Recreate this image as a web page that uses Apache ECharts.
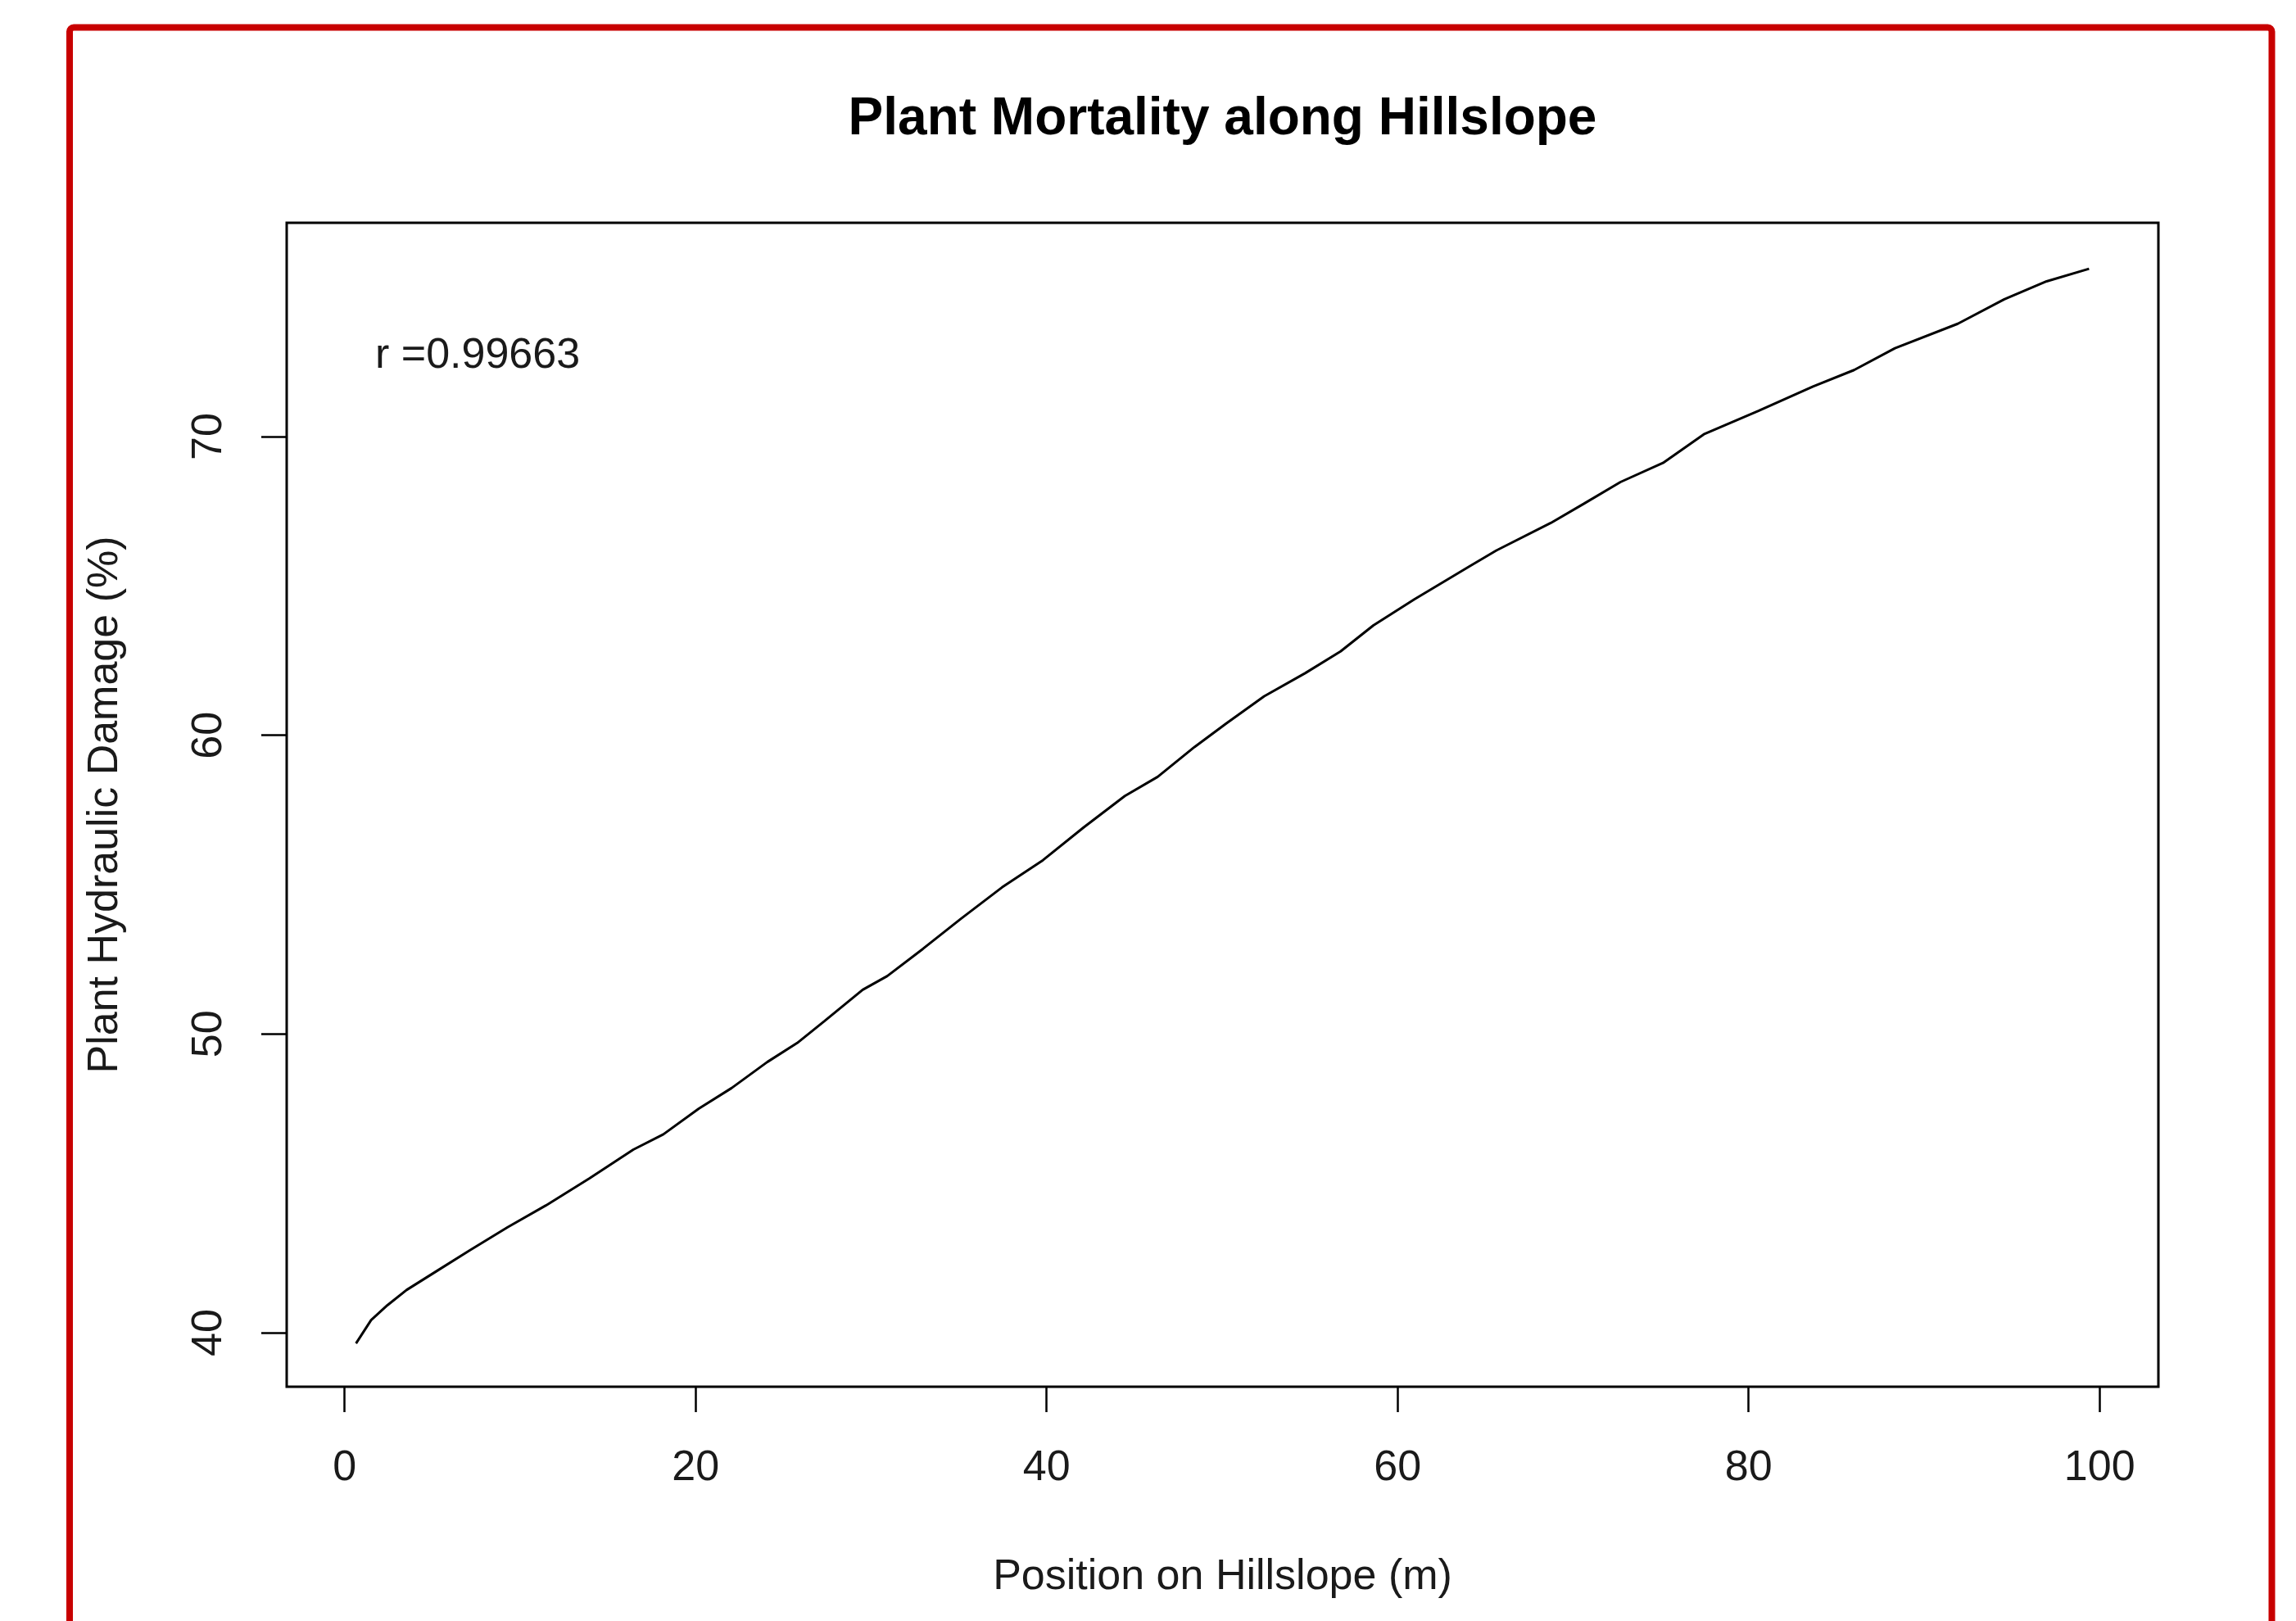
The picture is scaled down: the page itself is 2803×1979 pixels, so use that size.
<!DOCTYPE html>
<html>
<head>
<meta charset="utf-8">
<title>Plant Mortality along Hillslope</title>
<script src="https://cdn.jsdelivr.net/npm/echarts@6/dist/echarts.min.js"></script>
<style>
    html, body { margin: 0; padding: 0; background: #fff; }
    #chart { width: 2803px; height: 1979px; }
</style>
</head>
<body>
<div id="chart"></div>
<script>
// 曲线数据
var positionData = [0.65, 1.51, 2.44, 3.53, 5.24, 7.11, 9.29, 11.47, 13.96, 16.45, 18.16, 20.18, 22.05, 24.08,
    25.79, 27.34, 29.52, 30.92, 32.95, 35.12, 37.46, 39.79, 42.12, 44.46, 46.33, 48.43,
    50.22, 52.40, 54.73, 56.75, 58.62, 60.95, 64.07, 65.63, 68.73, 70.60, 72.70,
    75.12, 77.45, 80.56, 83.67, 86.01, 88.34, 91.92, 94.57, 96.98, 99.40];
var damageData = [39.64, 40.42, 40.92, 41.43, 42.06, 42.75, 43.53, 44.26, 45.17, 46.13, 46.64, 47.50, 48.19, 49.06,
    49.70, 50.43, 51.48, 51.94, 52.85, 53.86, 54.91, 55.82, 56.92, 57.97, 58.61, 59.61,
    60.39, 61.31, 62.08, 62.81, 63.68, 64.55, 65.65, 66.19, 67.11, 67.75, 68.48,
    69.12, 70.08, 70.86, 71.68, 72.23, 72.96, 73.78, 74.60, 75.20, 75.62];

// 刻度
var xTicks = [0, 20, 40, 60, 80, 100];
var yTicks = [40, 50, 60, 70];

var chartTitle = 'Plant Mortality along Hillslope';
var xName = 'Position on Hillslope (m)';
var yName = 'Plant Hydraulic Damage (%)';
var rText = 'r =0.99663';

var fontFamily = '"Liberation Sans", Arial, sans-serif';
var textColor = '#1a1a1a';

var myChart = echarts.init(document.getElementById('chart'), null, { renderer: 'canvas' });

var lineData = positionData.map(function (x, i) {
    return [x, damageData[i]];
});

var option = {
    animation: false,
    backgroundColor: '#fff',
    grid: {
        left: 350,
        top: 272,
        right: 168,
        bottom: 286,
        show: true,
        borderColor: '#000',
        borderWidth: 3,
        backgroundColor: 'transparent'
    },
    xAxis: {
        type: 'value',
        min: -3.3,
        max: 103.35,
        name: xName,
        nameLocation: 'middle',
        nameGap: 207,
        nameMoveOverlap: false,
        nameTextStyle: { color: textColor, fontSize: 52, fontFamily: fontFamily },
        axisLine: { show: false, onZero: false },
        splitLine: { show: false },
        axisTick: {
            show: true,
            customValues: xTicks,
            length: 31,
            lineStyle: { color: '#000', width: 2.5 }
        },
        axisLabel: {
            customValues: xTicks,
            margin: 74,
            color: textColor,
            fontSize: 52,
            fontFamily: fontFamily
        }
    },
    yAxis: {
        type: 'value',
        min: 38.19,
        max: 77.16,
        name: yName,
        nameLocation: 'middle',
        nameGap: 195,
        nameRotate: 90,
        nameMoveOverlap: false,
        nameTextStyle: { color: textColor, fontSize: 52, fontFamily: fontFamily },
        axisLine: { show: false, onZero: false },
        splitLine: { show: false },
        axisTick: {
            show: true,
            customValues: yTicks,
            length: 31,
            lineStyle: { color: '#000', width: 2.5 }
        },
        axisLabel: {
            customValues: yTicks,
            rotate: 90,
            margin: 68,
            color: textColor,
            fontSize: 52,
            fontFamily: fontFamily
        }
    },
    graphic: [
        {
            // 外围红色边框
            type: 'rect',
            shape: { x: 85, y: 33.5, width: 2688.5, height: 2100, r: 5 },
            style: { fill: 'transparent', stroke: '#c80000', lineWidth: 8 },
            silent: true
        },
        {
            type: 'text',
            x: 1492.5,
            y: 146,
            style: {
                text: chartTitle,
                fill: '#000',
                font: 'bold 64px ' + fontFamily,
                textAlign: 'center',
                textVerticalAlign: 'middle'
            }
        },
        {
            type: 'text',
            x: 458,
            y: 435,
            style: {
                text: rText,
                fill: textColor,
                font: '52px ' + fontFamily,
                textAlign: 'left',
                textVerticalAlign: 'middle'
            }
        }
    ],
    series: [{
        type: 'line',
        data: lineData,
        showSymbol: false,
        smooth: false,
        lineStyle: { color: '#000', width: 3 }
    }]
};

myChart.setOption(option);
</script>
</body>
</html>
